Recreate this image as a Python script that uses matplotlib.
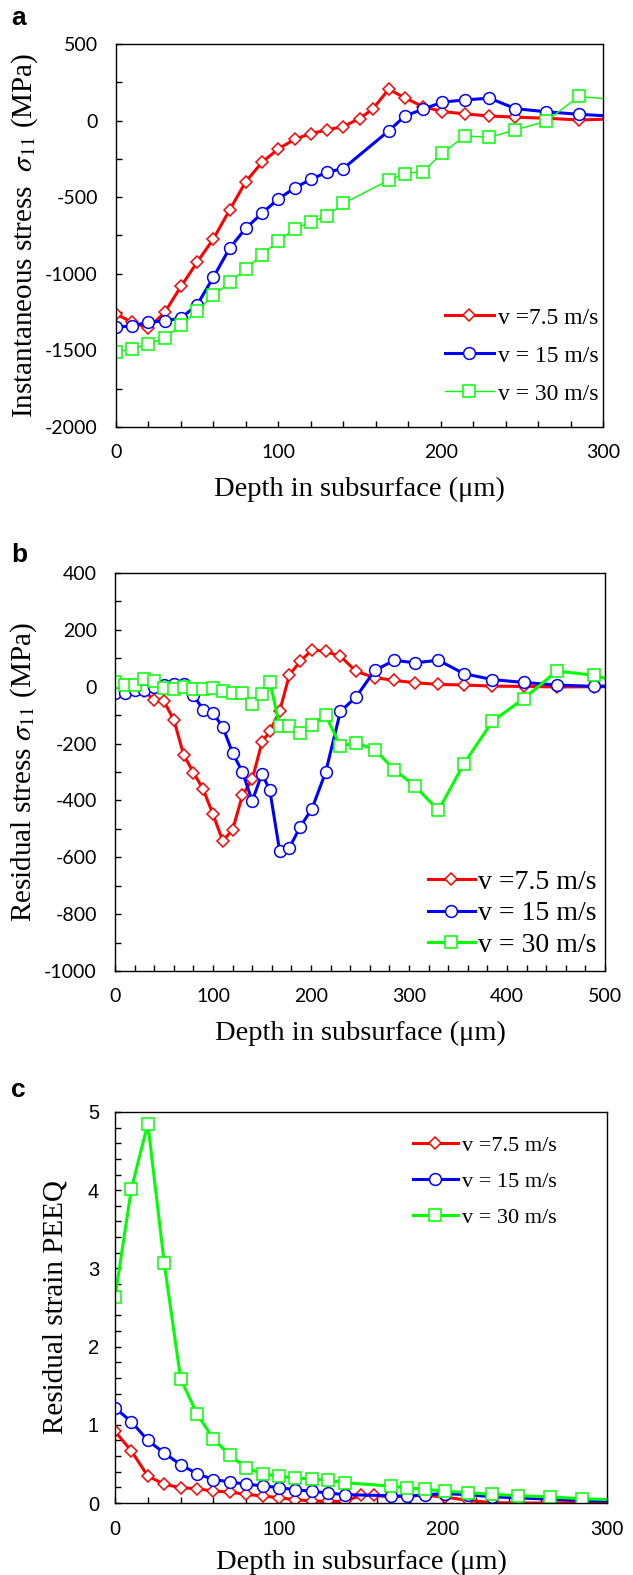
import matplotlib
matplotlib.use('Agg')
import matplotlib.pyplot as plt
from matplotlib.ticker import MultipleLocator

plt.rcParams['axes.unicode_minus'] = False
plt.rcParams['mathtext.fontset'] = 'stix'

# ---- data ----
# panel a: instantaneous stress
xa_red = [0, 10, 20, 30, 40, 50, 60, 70, 80, 90, 100, 110, 120, 130, 140, 150,
          158, 168, 178, 189, 201, 215, 230, 246, 265, 285, 306]
ya_red = [-1263, -1317, -1354, -1252, -1083, -924, -772, -583, -398, -272, -185, -122, -85, -61, -39, 13,
          74, 204, 148, 91, 59, 43, 30, 22, 15, 4, 10]
xa_bg = [0, 10, 20, 30, 40, 50, 60, 70, 80, 90, 100, 110, 120, 130, 140,
         168, 178, 189, 201, 215, 230, 246, 265, 285, 306]
ya_blue = [-1350, -1339, -1317, -1307, -1289, -1202, -1022, -833, -702, -604, -511, -441, -383, -337, -313,
           -67, 30, 74, 120, 135, 146, 78, 57, 41, 28]
ya_green = [-1511, -1491, -1459, -1417, -1337, -1241, -1141, -1057, -967, -876, -785, -707, -663, -622, -541,
            -389, -346, -333, -213, -100, -109, -61, -4, 157, 138]

# panel b: residual stress
xb = [0, 10, 20, 30, 40, 50, 60, 70, 80, 90, 100, 110, 120, 130, 140, 150, 158,
      168, 178, 189, 201, 215, 230, 246, 265, 285, 306, 330, 356, 385, 417, 451, 489, 530]
yb_red = [-5, -5, -8, -15, -48, -52, -116, -239, -302, -361, -449, -543, -503, -382, -326, -195, -156,
          -86, 42, 89, 130, 124, 107, 54, 32, 22, 14, 8, 6, 2, 1, -1, 0, 0]
yb_blue = [-22, -22, -13, -11, -2, 7, 8, 10, -30, -81, -93, -142, -233, -300, -402, -306, -365,
           -578, -566, -493, -429, -300, -87, -36, 57, 93, 84, 93, 46, 25, 15, 6, 1, 5]
yb_green = [15, 6, 6, 26, 20, -4, -8, -1, -8, -8, -4, -16, -22, -22, -62, -25, 18,
            -138, -138, -163, -134, -101, -209, -198, -221, -292, -349, -435, -271, -122, -42, 55, 40, 2]

# panel c: residual strain PEEQ
xc_red = xa_red
yc_red = [0.917, 0.665, 0.345, 0.24, 0.196, 0.183, 0.153, 0.14, 0.11, 0.09, 0.068, 0.043, 0.026, 0.021, 0.021, 0.098,
          0.098, 0.077, 0.09, 0.098, 0.077, 0.034, 0.004, 0.0, 0.0, 0.01, 0.01]
xc_bg = xa_bg
yc_blue = [1.215, 1.04, 0.80, 0.64, 0.49, 0.375, 0.30, 0.27, 0.24, 0.22, 0.196, 0.17, 0.15, 0.128, 0.107,
           0.094, 0.085, 0.107, 0.12, 0.107, 0.08, 0.065, 0.05, 0.035, 0.02]
yc_green = [2.63, 4.02, 4.85, 3.07, 1.59, 1.14, 0.82, 0.61, 0.45, 0.375, 0.34, 0.32, 0.307, 0.29, 0.26,
            0.217, 0.196, 0.175, 0.153, 0.132, 0.111, 0.094, 0.077, 0.055, 0.04]

labels = ['v =7.5 m/s', 'v = 15 m/s', 'v = 30 m/s']

serif = 'Liberation Serif'
RED, BLUE, GREEN = '#ff0000', '#0000ff', '#00ff00'

fig = plt.figure(figsize=(6.33, 15.75), dpi=100)

ax_a = fig.add_axes([0.1833, 0.7289, 0.7694, 0.2432])
ax_b = fig.add_axes([0.1817, 0.3835, 0.7741, 0.2527])
ax_c = fig.add_axes([0.1817, 0.0457, 0.7773, 0.2483])


def draw(ax, xr, yr, xb_, yb_, xg, yg, green_lw):
    ax.plot(xr, yr, color=RED, lw=2.2, marker='D', ms=6.5, mfc='white', mec=RED, mew=1.1, label=labels[0])
    ax.plot(xb_, yb_, color=BLUE, lw=2.2, marker='o', ms=8.5, mfc='white', mec=BLUE, mew=1.1, label=labels[1])
    ax.plot(xg, yg, color=GREEN, lw=green_lw, marker='s', ms=8.3, mfc='white', mec=GREEN, mew=1.1, label=labels[2])


def style(ax, tickfont, ticksize, ypad):
    for s in ax.spines.values():
        s.set_linewidth(1.0)
    ax.tick_params(which='both', direction='in', length=4, width=1.0, top=False, right=False)
    for lab in ax.get_xticklabels() + ax.get_yticklabels():
        lab.set_fontfamily(tickfont)
        lab.set_fontsize(ticksize)
    ax.tick_params(axis='x', pad=12)
    ax.tick_params(axis='y', pad=ypad)


# panel a
draw(ax_a, xa_red, ya_red, xa_bg, ya_blue, xa_bg, ya_green, 1.0)
ax_a.set_xlim(0, 300)
ax_a.set_ylim(-2000, 500)
ax_a.xaxis.set_major_locator(MultipleLocator(100))
ax_a.xaxis.set_minor_locator(MultipleLocator(20))
ax_a.yaxis.set_major_locator(MultipleLocator(500))
ax_a.yaxis.set_minor_locator(MultipleLocator(250))
style(ax_a, 'Lato', 14, 13)
ax_a.set_xlabel('Depth in subsurface (\u03bcm)', fontfamily=serif, fontsize=20.5, labelpad=12)
ax_a.set_ylabel(r'Instantaneous stress  $\sigma_{\mathit{11}}$ (MPa)', fontfamily=serif, fontsize=21, labelpad=4)
ax_a.legend(loc='upper left', bbox_to_anchor=(0.676, 0.313), frameon=False, borderpad=0, borderaxespad=0,
            handlelength=2.05, handletextpad=0.2, labelspacing=0.70, prop={'family': serif, 'size': 17})

# panel b
draw(ax_b, xb, yb_red, xb, yb_blue, xb, yb_green, 2.2)
ax_b.set_xlim(0, 500)
ax_b.set_ylim(-1000, 400)
ax_b.xaxis.set_major_locator(MultipleLocator(100))
ax_b.xaxis.set_minor_locator(MultipleLocator(20))
ax_b.yaxis.set_major_locator(MultipleLocator(200))
ax_b.yaxis.set_minor_locator(MultipleLocator(100))
style(ax_b, 'Lato', 14, 13)
ax_b.set_xlabel('Depth in subsurface (\u03bcm)', fontfamily=serif, fontsize=20.5, labelpad=12)
ax_b.set_ylabel(r'Residual stress $\sigma_{\mathit{11}}$ (MPa)', fontfamily=serif, fontsize=21, labelpad=4)
ax_b.legend(loc='upper left', bbox_to_anchor=(0.639, 0.255), frameon=False, borderpad=0, borderaxespad=0,
            handlelength=1.68, handletextpad=0.1, labelspacing=0.22, prop={'family': serif, 'size': 20})

# panel c
draw(ax_c, xc_red, yc_red, xc_bg, yc_blue, xc_bg, yc_green, 2.2)
ax_c.set_xlim(0, 300)
ax_c.set_ylim(0, 5)
ax_c.xaxis.set_major_locator(MultipleLocator(100))
ax_c.xaxis.set_minor_locator(MultipleLocator(20))
ax_c.yaxis.set_major_locator(MultipleLocator(1))
ax_c.yaxis.set_minor_locator(MultipleLocator(0.2))
style(ax_c, 'Liberation Sans', 14.5, 11.5)
ax_c.set_xlabel('Depth in subsurface (\u03bcm)', fontfamily=serif, fontsize=20.5, labelpad=8)
ax_c.set_ylabel('Residual strain PEEQ', fontfamily=serif, fontsize=21, labelpad=14)
ax_c.legend(loc='upper left', bbox_to_anchor=(0.606, 0.94), frameon=False, borderpad=0, borderaxespad=0,
            handlelength=2.0, handletextpad=0.2, labelspacing=0.69, prop={'family': serif, 'size': 16})

# panel letters
for letter, ypos in [('a', 0.9839), ('b', 0.6432), ('c', 0.3035)]:
    fig.text(0.018, ypos, letter, fontfamily='Liberation Sans', fontweight='bold', fontsize=19, va='baseline')

fig.savefig('out.png', dpi=100)
